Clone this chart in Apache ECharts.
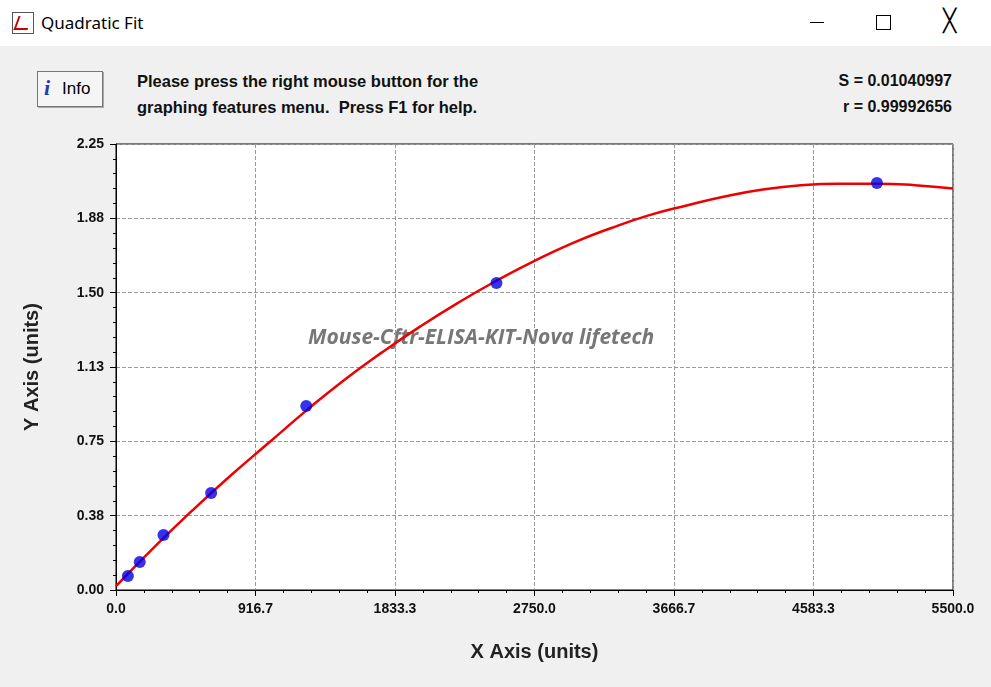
<!DOCTYPE html>
<html><head><meta charset="utf-8">
<script src="https://cdn.jsdelivr.net/npm/echarts@6/dist/echarts.min.js"></script>
<style>
body{margin:0;width:991px;height:687px;background:#f0f0f0;font-family:Arial,"Liberation Sans",sans-serif;overflow:hidden;position:relative}
#tb{position:absolute;left:0;top:0;width:991px;height:46px;background:#fff}
.t{position:absolute;white-space:nowrap}
#c{position:absolute;left:0;top:0;width:991px;height:687px}
</style></head><body>
<div id="tb">
<div class="t" style="left:12px;top:12px;width:20px;height:20px;border:1px solid #555;background:#fff"><div style="position:absolute;left:3px;top:3px;width:12px;height:12px;border-left:2px solid #c00;border-bottom:2px solid #c00;transform:skewX(-20deg)"></div></div>
<div class="t" style="left:41px;top:11px;font-size:17px;font-family:'Noto Sans',sans-serif;color:#000">Quadratic Fit</div>
<div class="t" style="left:810px;top:22px;width:14px;border-top:1px solid #000"></div>
<div class="t" style="left:876px;top:15px;width:13px;height:13px;border:1px solid #000"></div>
<div class="t" style="left:943px;top:8px;font-size:22px;font-weight:100;color:#000;font-family:'DejaVu Sans'">╳</div>
</div>
<div class="t" style="left:37px;top:71px;width:64px;height:34px;border:1px solid #777;background:#f5f5f5;box-shadow:1px 1px 0 #aaa">
<span style="position:absolute;left:6px;top:3px;font:italic bold 22px serif;color:#1a3fb0">i</span>
<span style="position:absolute;left:24px;top:7px;font-size:17px">Info</span></div>
<div class="t" style="left:137px;top:68px;font-size:16.5px;font-weight:bold;line-height:26px;color:#111">Please press the right mouse button for the<br>graphing features menu.&nbsp; Press F1 for help.</div>
<div class="t" style="right:39px;top:68px;font-size:16px;font-weight:bold;line-height:26px;text-align:right;color:#111">S = 0.01040997<br>r = 0.99992656</div>
<div id="c"></div>
<script>
const concX=[78,156,312,625,1250,2500,5000];
const odY=[0.071,0.141,0.277,0.489,0.928,1.549,2.053];
const fitX=[0,250,500,750,1000,1250,1500,1750,2000,2250,2500,2750,3000,3250,3500,3750,4000,4250,4500,4750,5000,5250,5500];
const fitY=[0.02,0.215,0.40,0.575,0.74,0.905,1.06,1.20,1.33,1.45,1.56,1.66,1.75,1.825,1.89,1.94,1.985,2.02,2.042,2.05,2.05,2.042,2.025];
const ch=echarts.init(document.getElementById('c'));
const ax={color:'#111',fontSize:14,fontWeight:'bold'};
ch.setOption({
 animation:false,
 grid:{left:116,right:38,top:144,bottom:97,show:true,backgroundColor:'#fff',borderColor:'#000',borderWidth:1},
 xAxis:{type:'value',min:0,max:5500,interval:5500/6,name:'X Axis (units)',nameLocation:'middle',nameGap:52,
  nameTextStyle:{fontSize:20,fontWeight:'bold',color:'#222'},
  axisLine:{show:true,lineStyle:{color:'#000'}},axisTick:{show:true,length:6,lineStyle:{color:'#000'}},
  minorTick:{show:true,splitNumber:5,length:3,lineStyle:{color:'#000'}},
  axisLabel:{...ax,margin:12,formatter:v=>v.toFixed(1)},
  splitLine:{show:true,lineStyle:{color:'#999',type:'dashed'}}},
 yAxis:{type:'value',min:0,max:2.25,interval:0.375,name:'Y Axis (units)',nameLocation:'middle',nameGap:74,
  nameTextStyle:{fontSize:20,fontWeight:'bold',color:'#222'},
  axisLine:{show:true,lineStyle:{color:'#000'}},axisTick:{show:true,length:6,lineStyle:{color:'#000'}},
  minorTick:{show:true,splitNumber:5,length:3,lineStyle:{color:'#000'}},
  axisLabel:{...ax,margin:12,formatter:v=>v.toFixed(2)},
  splitLine:{show:true,lineStyle:{color:'#999',type:'dashed'}}},
 graphic:[{type:'text',left:308,top:328,style:{text:'Mouse-Cftr-ELISA-KIT-Nova lifetech',font:'italic bold 21px "Open Sans",sans-serif',fill:'#777'}}],
 series:[
  {type:'line',data:fitX.map((x,i)=>[x,fitY[i]]),smooth:true,showSymbol:false,lineStyle:{color:'#e00',width:2.5},z:2},
  {type:'scatter',data:concX.map((x,i)=>[x,odY[i]]),symbolSize:12,itemStyle:{color:'#0000e6'},z:3}
 ]});
</script></body></html>
